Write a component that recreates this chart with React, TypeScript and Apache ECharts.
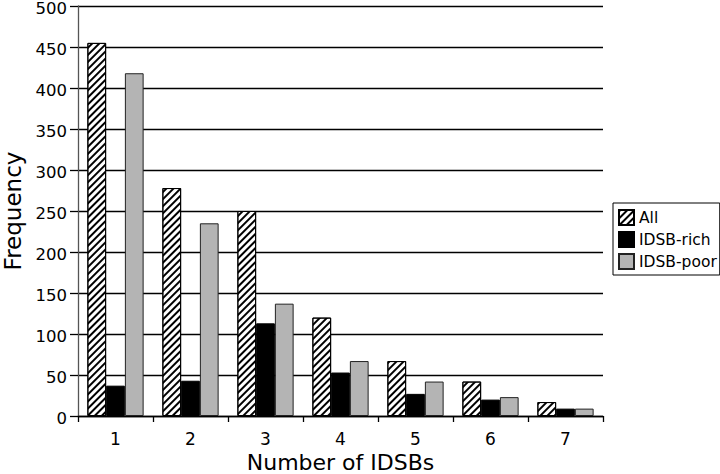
import React, { useEffect, useRef } from "react";
import * as echarts from "echarts";

const categories = ["1", "2", "3", "4", "5", "6", "7"];
const allValues = [455, 278, 250, 120, 67, 42, 17];
const richValues = [37, 43, 113, 53, 27, 20, 9];
const poorValues = [418, 235, 137, 67, 42, 23, 9];
const seriesNames = ["All", "IDSB-rich", "IDSB-poor"];

export default function App() {
  const ref = useRef<HTMLDivElement>(null);
  useEffect(() => {
    if (!ref.current) return;
    const chart = echarts.init(ref.current, null, { renderer: "svg" });
    const font = "DejaVu Sans";
    chart.setOption({
      animation: false,
      backgroundColor: "#fff",
      textStyle: { fontFamily: font },
      grid: {
        left: 78,
        right: 117,
        top: 6,
        bottom: 58,
        containLabel: false,
        outerBoundsMode: "none",
      },
      legend: {
        orient: "vertical",
        left: 613,
        top: 203,
        padding: [6, 3, 5, 5],
        itemGap: 5,
        itemWidth: 15,
        itemHeight: 15,
        borderColor: "#000",
        borderWidth: 1,
        icon: "rect",
        textStyle: { fontFamily: font, fontSize: 15.5, color: "#000" },
        data: seriesNames,
      },
      xAxis: {
        type: "category",
        data: categories,
        name: "Number of IDSBs",
        nameLocation: "middle",
        nameGap: 35,
        nameTextStyle: { fontFamily: font, fontSize: 22, lineHeight: 21, color: "#000" },
        axisLine: { lineStyle: { color: "#000", width: 1.3 } },
        axisTick: { show: true, length: 6, lineStyle: { color: "#000", width: 1.3 } },
        axisLabel: { fontFamily: font, fontSize: 17, color: "#000", margin: 14 },
      },
      yAxis: {
        type: "value",
        min: 0,
        max: 500,
        interval: 50,
        name: "Frequency",
        nameLocation: "middle",
        nameGap: 53,
        nameTextStyle: { fontFamily: font, fontSize: 23, color: "#000" },
        axisLine: { show: true, lineStyle: { color: "#555", width: 1.3 } },
        axisTick: { show: true, length: 8, lineStyle: { color: "#000", width: 1.3 } },
        axisLabel: {
          fontFamily: font,
          fontSize: 16.5,
          lineHeight: 4,
          verticalAlign: "top",
          color: "#000",
          margin: 11,
        },
        splitLine: { show: true, lineStyle: { color: "#000", width: 1.3 } },
      },
      series: [
        {
          name: "All",
          type: "bar",
          data: allValues,
          barGap: "0%",
          barCategoryGap: "25%",
          itemStyle: {
            color: "#fff",
            borderColor: "#000",
            borderWidth: 1,
            decal: {
              symbol: "rect",
              color: "#000",
              backgroundColor: "#fff",
              dashArrayX: [1, 0],
              dashArrayY: [1.2, 2.6],
              rotation: -Math.PI / 4,
            },
          },
        },
        {
          name: "IDSB-rich",
          type: "bar",
          data: richValues,
          barGap: "0%",
          barCategoryGap: "25%",
          itemStyle: { color: "#000", borderColor: "#000", borderWidth: 1 },
        },
        {
          name: "IDSB-poor",
          type: "bar",
          data: poorValues,
          barGap: "0%",
          barCategoryGap: "25%",
          itemStyle: { color: "#b4b4b4", borderColor: "#222", borderWidth: 1 },
        },
      ],
    });
    return () => chart.dispose();
  }, []);
  return <div ref={ref} style={{ width: 720, height: 474, position: "absolute", left: 0, top: 0 }} />;
}
